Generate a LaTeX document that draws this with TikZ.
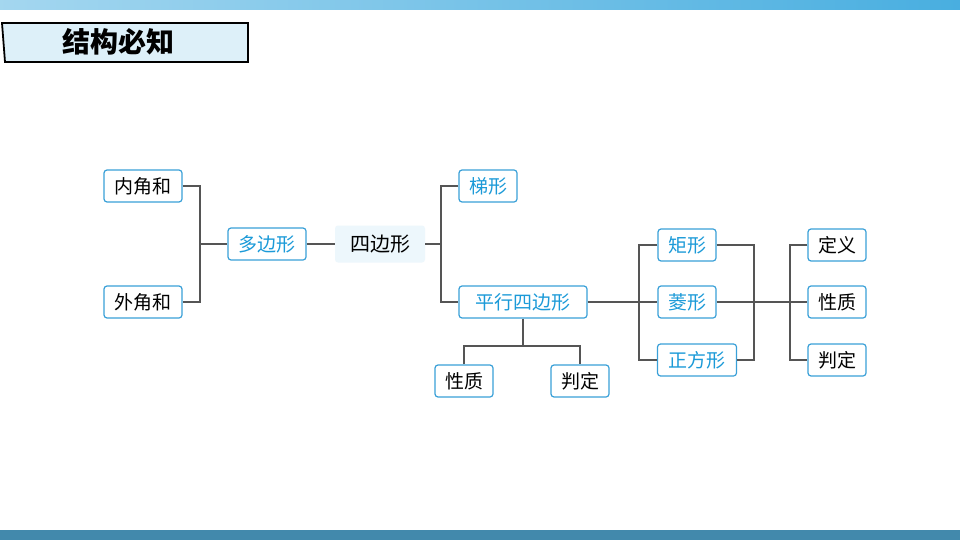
\documentclass[tikz,border=0pt]{standalone}
\usepackage{fontspec}
\newfontfamily\cjk{Noto Sans CJK SC}
\definecolor{bl}{HTML}{1B9AD8}
\definecolor{bd}{HTML}{3AA0D8}
\definecolor{ln}{HTML}{555555}
\tikzset{
  bx/.style={draw=bd,line width=1.2pt,rounded corners=3pt,fill=white,minimum height=32pt,inner xsep=4pt,font=\cjk\fontsize{19}{19}\selectfont},
  bk/.style={bx,text=black},
  bb/.style={bx,text=bl},
  cn/.style={draw=ln,line width=1.3pt}
}
\begin{document}
\begin{tikzpicture}[x=1pt,y=-1pt]
\useasboundingbox (0,0) rectangle (960,540);
\fill[white] (0,0) rectangle (960,540);
\shade[left color=white!60!bl,right color=bl!80] (0,0) rectangle (960,10);
\fill[bl!70!black!80] (0,530) rectangle (960,540);
\draw[line width=1.8pt,fill=bl!15] (2,23) -- (248,23) -- (248,62) -- (5,62) -- cycle;
\node[font=\cjk\bfseries\fontsize{28}{28}\selectfont] (t) at (118,42) {结构必知};
\node[bk,minimum width=78pt] (a1) at (143,186) {内角和};
\node[bk,minimum width=78pt] (a2) at (143,302) {外角和};
\node[bb,minimum width=78pt] (d) at (267,244) {多边形};
\node[fill=bl!8,rounded corners=3pt,minimum width=90pt,minimum height=37pt,font=\cjk\fontsize{20}{20}\selectfont] (s) at (380,244) {四边形};
\node[bb,minimum width=58pt] (tx) at (488,186) {梯形};
\node[bb,minimum width=128pt] (p) at (523,302) {平行四边形};
\node[bk,minimum width=58pt] (pq) at (464,381) {性质};
\node[bk,minimum width=58pt] (pd) at (580,381) {判定};
\node[bb,minimum width=58pt] (j) at (687,245) {矩形};
\node[bb,minimum width=58pt] (l) at (687,302) {菱形};
\node[bb,minimum width=79pt] (z) at (697,360) {正方形};
\node[bk,minimum width=58pt] (r1) at (837,245) {定义};
\node[bk,minimum width=58pt] (r2) at (837,302) {性质};
\node[bk,minimum width=58pt] (r3) at (837,360) {判定};
\coordinate (c1) at (200,244);
\draw[cn] (a1.east) -| (c1) |- (a2.east);
\draw[cn] (c1) -- (d.west);
\draw[cn] (d.east) -- (s.west);
\coordinate (c2) at (441,244);
\draw[cn] (s.east) -- (c2);
\draw[cn] (tx.west) -| (c2) |- (p.west);
\coordinate (c3) at (523,346);
\draw[cn] (p.south) -- (c3);
\draw[cn] (pq.north) |- (c3) -| (pd.north);
\coordinate (c4) at (639,302);
\draw[cn] (p.east) -- (l.west);
\draw[cn] (j.west) -| (c4) |- (z.west);
\coordinate (c5) at (754,302);
\draw[cn] (j.east) -| (c5) |- (z.east);
\coordinate (c6) at (790,302);
\draw[cn] (l.east) -- (r2.west);
\draw[cn] (r1.west) -| (c6) |- (r3.west);
\end{tikzpicture}
\end{document}
